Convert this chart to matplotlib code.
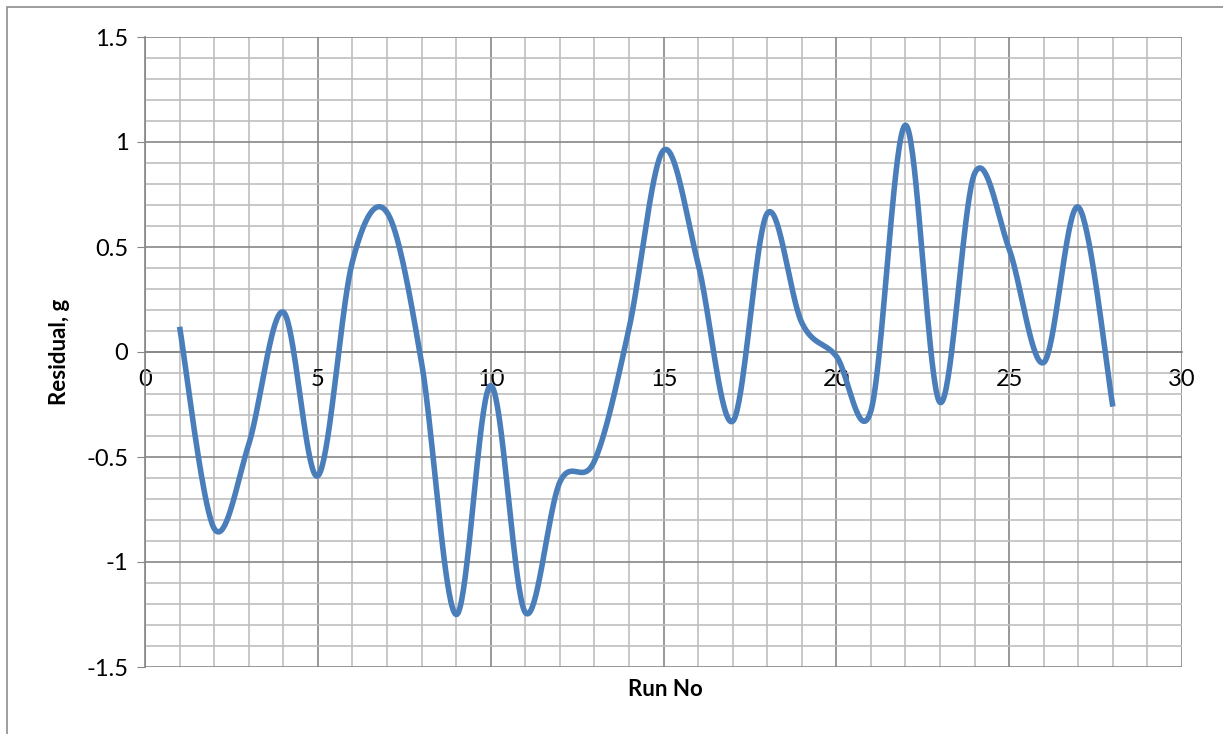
#Residual plot, Excel-style smoothed line on a fine grid.
import numpy as np
import matplotlib.pyplot as plt
from matplotlib.ticker import MultipleLocator
from matplotlib.patches import Rectangle

plt.rcParams['font.family'] = ['Lato', 'DejaVu Sans']

#Data.
run_no = np.arange(1, 29)
residual = [0.12, -0.84, -0.44, 0.19, -0.59, 0.43, 0.665, -0.05, -1.25, -0.16,
            -1.24, -0.62, -0.52, 0.11, 0.96, 0.42, -0.33, 0.66, 0.14, -0.02,
            -0.28, 1.08, -0.24, 0.85, 0.49, -0.05, 0.69, -0.26]
x_ticks = [0, 5, 10, 15, 20, 25, 30]
y_ticks = [-1.5, -1, -0.5, 0, 0.5, 1, 1.5]

#Excel "smoothed line" is a Catmull-Rom style Bezier through the points.
def smooth(x, y, n=40):
    x = np.asarray(x, float)
    y = np.asarray(y, float)
    xp = np.concatenate(([x[0]], x, [x[-1]]))
    yp = np.concatenate(([y[0]], y, [y[-1]]))
    xs, ys = [], []
    t = np.linspace(0, 1, n)
    for i in range(1, len(xp) - 2):
        p0 = np.array([xp[i], yp[i]])
        p3 = np.array([xp[i + 1], yp[i + 1]])
        p1 = p0 + (np.array([xp[i + 1], yp[i + 1]]) - np.array([xp[i - 1], yp[i - 1]])) / 6
        p2 = p3 - (np.array([xp[i + 2], yp[i + 2]]) - np.array([xp[i], yp[i]])) / 6
        b = ((1 - t) ** 3)[:, None] * p0 + (3 * (1 - t) ** 2 * t)[:, None] * p1 \
            + (3 * (1 - t) * t ** 2)[:, None] * p2 + (t ** 3)[:, None] * p3
        xs.extend(b[:, 0])
        ys.extend(b[:, 1])
    return np.array(xs), np.array(ys)

fig = plt.figure(figsize=(12.23, 7.34), dpi=100)
ax = fig.add_axes([145 / 1223, 1 - 667 / 734, (1182 - 145) / 1223, (667 - 37) / 734])

#Outer chart border.
fig.patches.append(Rectangle((7 / 1223, -0.1), 1.2, 1 - 7 / 734 + 0.1, transform=fig.transFigure,
                             fill=False, edgecolor='#8c8c8c', linewidth=1.2))

sx, sy = smooth(run_no, residual)
ax.plot(sx, sy, color='#4A7EBB', linewidth=4.0, solid_capstyle='butt', zorder=3)

ax.set_xlim(0, 30)
ax.set_ylim(-1.5, 1.5)
ax.set_xticks(x_ticks)
ax.set_yticks(y_ticks)
ax.set_xticklabels([str(v) for v in x_ticks])
ax.set_yticklabels(['-1.5', '-1', '-0.5', '0', '0.5', '1', '1.5'])
ax.xaxis.set_minor_locator(MultipleLocator(1))
ax.yaxis.set_minor_locator(MultipleLocator(0.1))

ax.grid(which='major', color='#868686', linewidth=1.2)
ax.grid(which='minor', color='#bfbfbf', linewidth=1.2)
ax.set_axisbelow(True)

#Horizontal axis crosses at zero, labels sit under it.
ax.spines['bottom'].set_position(('data', 0))
ax.spines['bottom'].set_color('#868686')
ax.spines['left'].set_color('#868686')
ax.spines['left'].set_linewidth(1.2)
ax.spines['bottom'].set_linewidth(1.2)
ax.spines['top'].set_visible(False)
ax.spines['right'].set_visible(False)
ax.tick_params(axis='x', which='both', length=0, labelsize=17, pad=12)
ax.tick_params(axis='y', which='major', length=6, color='#868686', labelsize=17, pad=6)
ax.tick_params(axis='y', which='minor', length=0)

fig.text(60 / 1223, 1 - 352 / 734, 'Residual, g', rotation=90, ha='center', va='center',
         fontsize=16, fontweight='bold')
fig.text(665 / 1223, 1 - 690 / 734, 'Run No', ha='center', va='center',
         fontsize=16, fontweight='bold')

fig.savefig('out.png', dpi=100)
